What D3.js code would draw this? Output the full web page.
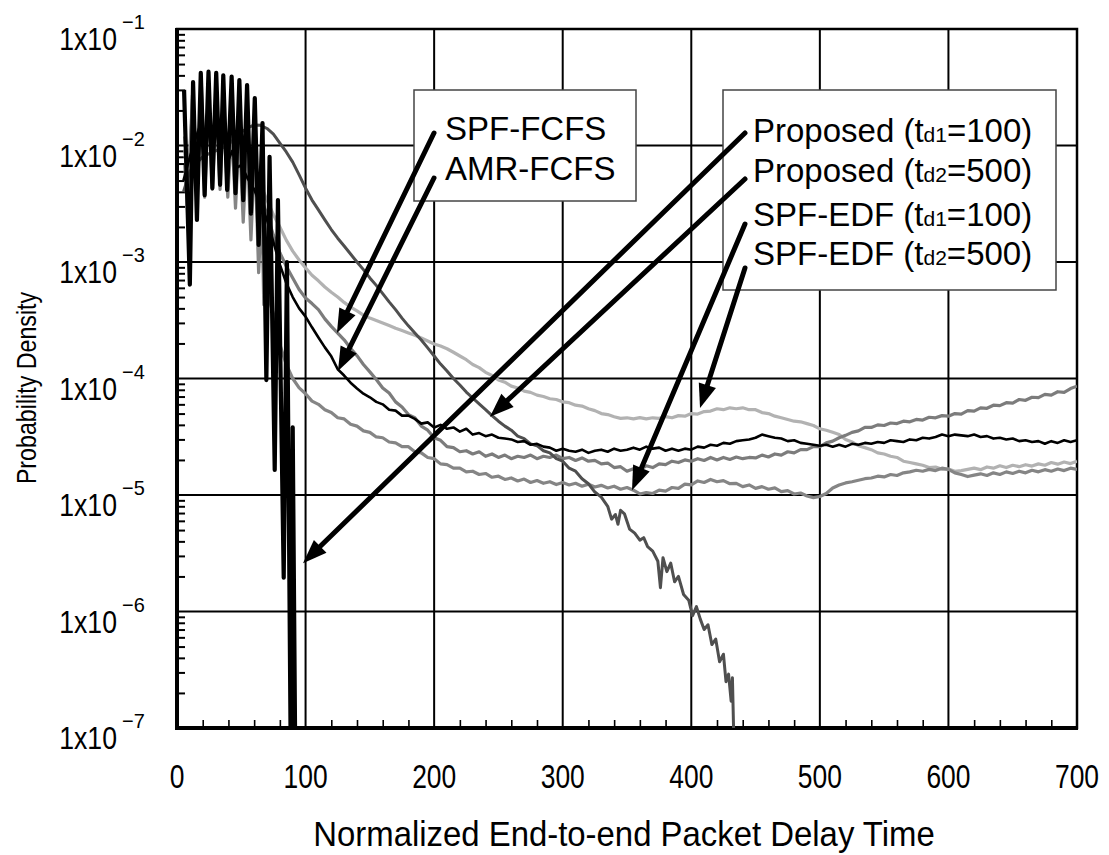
<!DOCTYPE html>
<html>
<head>
<meta charset="utf-8">
<script src="https://cdn.jsdelivr.net/npm/d3@7"></script>
<style>
  body { margin: 0; background: #fff; }
  svg { display: block; }
  text { font-family: 'Liberation Sans', Arial, sans-serif; fill: #000; }
</style>
</head>
<body>
<svg id="chart" width="1109" height="855"></svg>
<script>
// ---- Axis ticks ----
const xTicks = [0, 100, 200, 300, 400, 500, 600, 700];
const yTicks = [1e-1, 1e-2, 1e-3, 1e-4, 1e-5, 1e-6, 1e-7];
const yExponents = ["\u22121", "\u22122", "\u22123", "\u22124", "\u22125", "\u22126", "\u22127"];

// ---- Series: [delay, probability density] ----
const proposedTd1 = [
  [5.5, 3.0e-2], [10, 6.4e-4], [12.5, 3.5e-2], [15.5, 2.3e-3], [18.5, 4.2e-2], [21.5, 3.75e-3],
  [24.5, 4.3e-2], [27.5, 4.3e-3], [30.5, 4.2e-2], [33.5, 4.6e-3], [36, 4.0e-2], [39, 4.15e-3],
  [42.5, 3.9e-2], [45.5, 3.9e-3], [48.5, 3.65e-2], [51.5, 3.4e-3], [54.5, 3.3e-2], [57.5, 2.6e-3],
  [60.5, 2.55e-2], [63.5, 1.4e-3], [66.5, 1.56e-2], [69.5, 9.7e-5], [72, 8e-3], [76, 1.64e-5],
  [78.5, 3.4e-3], [83, 1.95e-6], [85.5, 1.0e-3], [88.5, 5e-8], [90, 3.8e-5], [92, 5e-8]
];

const proposedTd2 = [
  [5, 4e-3], [10, 6e-3], [15, 7e-3], [20, 8e-3], [25, 8.5e-3], [30, 9e-3], [35, 9.5e-3], [40, 1.02e-2],
  [45, 1.15e-2], [50, 1.3e-2], [55, 1.42e-2], [60, 1.5e-2], [65, 1.49e-2], [70, 1.4e-2], [75, 1.25e-2],
  [80, 1.05e-2], [85, 8.8e-3], [90, 7.2e-3], [95, 5.6e-3], [100, 4.3e-3], [105, 3.4e-3], [110, 2.8e-3],
  [115, 2.3e-3], [120, 1.9e-3], [125, 1.6e-3], [130, 1.37e-3], [135, 1.17e-3], [140, 1.0e-3],
  [145, 8.6e-4], [150, 7.3e-4], [155, 6.3e-4], [160, 5.35e-4], [165, 4.55e-4], [170, 3.9e-4],
  [175, 3.3e-4], [180, 2.83e-4], [185, 2.46e-4], [190, 2.14e-4], [195, 1.83e-4], [200, 1.56e-4],
  [205, 1.33e-4], [210, 1.16e-4], [215, 1.0e-4], [220, 8.8e-5], [225, 7.65e-5], [230, 6.8e-5],
  [235, 6.05e-5], [240, 5.4e-5], [245, 4.8e-5], [250, 4.3e-5], [255, 3.9e-5], [260, 3.6e-5],
  [265, 3.2e-5], [270, 3.05e-5], [275, 2.75e-5], [280, 2.65e-5], [285, 2.4e-5], [290, 2.3e-5],
  [295, 2.05e-5], [300, 1.95e-5], [305, 1.7e-5], [310, 1.6e-5], [315, 1.38e-5], [320, 1.25e-5],
  [325, 1.06e-5], [330, 9.6e-6], [335, 8.0e-6], [338, 6.2e-6], [341, 6.8e-6], [343, 5.6e-6],
  [345, 7.4e-6], [348, 6.9e-6], [352, 5.1e-6], [356, 4.7e-6], [360, 4.1e-6], [363, 4.3e-6],
  [366, 3.6e-6], [370, 3.3e-6], [374, 2.7e-6], [376, 1.6e-6], [378, 2.9e-6], [381, 2.2e-6],
  [384, 2.6e-6], [387, 1.8e-6], [390, 2.0e-6], [394, 1.4e-6], [398, 1.25e-6], [401, 9.2e-7],
  [404, 1.1e-6], [407, 8.6e-7], [410, 7.0e-7], [413, 7.7e-7], [416, 5.2e-7], [419, 5.8e-7],
  [422, 3.7e-7], [425, 4.3e-7], [427, 2.5e-7], [429, 2.9e-7], [431, 1.7e-7], [432, 2.7e-7], [433.5, 5e-8]
];

const spfEdfTd1 = [
  [6, 6.8e-3], [8.5, 2.5e-3], [12, 2.7e-2], [15.5, 3.1e-3], [19, 3.2e-2], [21.5, 3.6e-3], [24.5, 2.6e-2],
  [27.5, 4.2e-3], [30.5, 2.3e-2], [33.5, 4.2e-3], [36, 2.0e-2], [39.5, 3.6e-3], [42.5, 1.43e-2],
  [45.5, 2.9e-3], [48.5, 1.28e-2], [51.5, 2.2e-3], [54.5, 1.05e-2], [57.5, 1.55e-3], [60.5, 9.2e-3],
  [63.5, 8.1e-4], [66, 3.1e-3], [67.5, 4.3e-4], [70, 6.0e-4], [72, 4.6e-4], [75, 3.6e-4], [80, 1.96e-4],
  [85, 1.32e-4], [90, 1.0e-4], [95, 8.3e-5], [100, 7.4e-5], [105, 6.4e-5], [110, 6.0e-5], [115, 5.4e-5],
  [120, 5.1e-5], [125, 4.6e-5], [130, 4.5e-5], [135, 4.05e-5], [140, 3.9e-5], [145, 3.55e-5],
  [150, 3.45e-5], [155, 3.15e-5], [160, 3.1e-5], [165, 2.85e-5], [170, 2.8e-5], [175, 2.6e-5],
  [180, 2.6e-5], [185, 2.35e-5], [190, 2.3e-5], [195, 2.1e-5], [200, 2.05e-5], [205, 1.85e-5],
  [210, 1.82e-5], [215, 1.7e-5], [220, 1.7e-5], [225, 1.58e-5], [230, 1.6e-5], [235, 1.5e-5],
  [240, 1.53e-5], [245, 1.42e-5], [250, 1.45e-5], [255, 1.36e-5], [260, 1.4e-5], [265, 1.32e-5],
  [270, 1.37e-5], [275, 1.28e-5], [280, 1.33e-5], [285, 1.26e-5], [290, 1.3e-5], [295, 1.23e-5],
  [300, 1.28e-5], [305, 1.22e-5], [310, 1.26e-5], [315, 1.19e-5], [320, 1.24e-5], [325, 1.17e-5],
  [330, 1.21e-5], [335, 1.15e-5], [340, 1.19e-5], [345, 1.12e-5], [350, 1.16e-5], [355, 1.1e-5],
  [360, 1.02e-5], [365, 1.05e-5], [370, 1.03e-5], [375, 1.1e-5], [380, 1.08e-5], [385, 1.16e-5],
  [390, 1.14e-5], [395, 1.24e-5], [400, 1.22e-5], [405, 1.32e-5], [410, 1.28e-5], [415, 1.36e-5],
  [420, 1.3e-5], [425, 1.33e-5], [430, 1.25e-5], [435, 1.26e-5], [440, 1.18e-5], [445, 1.22e-5],
  [450, 1.14e-5], [455, 1.18e-5], [460, 1.12e-5], [465, 1.15e-5], [470, 1.07e-5], [475, 1.09e-5],
  [480, 1.02e-5], [485, 1.04e-5], [490, 9.8e-6], [495, 9.5e-6], [500, 9.7e-6], [505, 1.03e-5],
  [510, 1.15e-5], [515, 1.22e-5], [520, 1.27e-5], [525, 1.3e-5], [530, 1.34e-5], [535, 1.38e-5],
  [540, 1.4e-5], [545, 1.45e-5], [550, 1.43e-5], [555, 1.5e-5], [560, 1.47e-5], [565, 1.55e-5],
  [570, 1.58e-5], [575, 1.63e-5], [580, 1.6e-5], [585, 1.66e-5], [590, 1.62e-5], [595, 1.7e-5],
  [600, 1.66e-5], [605, 1.55e-5], [610, 1.5e-5], [615, 1.44e-5], [620, 1.48e-5], [625, 1.52e-5],
  [630, 1.47e-5], [635, 1.55e-5], [640, 1.5e-5], [645, 1.58e-5], [650, 1.53e-5], [655, 1.6e-5],
  [660, 1.55e-5], [665, 1.63e-5], [670, 1.58e-5], [675, 1.65e-5], [680, 1.6e-5], [685, 1.67e-5],
  [690, 1.62e-5], [695, 1.7e-5], [700, 1.66e-5]
];

const spfEdfTd2 = [
  [6, 9.2e-3], [8.5, 4.2e-3], [12, 2.5e-2], [15.5, 7.5e-3], [19, 2.7e-2], [21.5, 9e-3], [24.5, 2.45e-2],
  [27.5, 9e-3], [30.5, 2.1e-2], [33.5, 9e-3], [36, 1.83e-2], [39.5, 9e-3], [42.5, 1.5e-2], [45.5, 9.5e-3],
  [48, 1.1e-2], [50, 9.5e-3], [55, 7.5e-3], [60, 5.9e-3], [65, 4.6e-3], [70, 3.4e-3], [75, 2.55e-3],
  [80, 2.0e-3], [85, 1.54e-3], [90, 1.24e-3], [95, 1.04e-3], [100, 8.9e-4], [105, 7.7e-4], [110, 6.9e-4],
  [115, 6.1e-4], [120, 5.5e-4], [125, 5.0e-4], [130, 4.5e-4], [135, 4.1e-4], [140, 3.8e-4], [145, 3.5e-4],
  [150, 3.3e-4], [155, 3.15e-4], [160, 3.0e-4], [165, 2.85e-4], [170, 2.7e-4], [175, 2.58e-4],
  [180, 2.46e-4], [185, 2.35e-4], [190, 2.23e-4], [195, 2.1e-4], [200, 1.98e-4], [205, 1.9e-4],
  [210, 1.8e-4], [215, 1.68e-4], [220, 1.56e-4], [225, 1.45e-4], [230, 1.32e-4], [235, 1.24e-4],
  [240, 1.13e-4], [245, 1.06e-4], [250, 9.7e-5], [255, 9.3e-5], [260, 8.6e-5], [265, 8.3e-5],
  [270, 7.8e-5], [275, 7.6e-5], [280, 7.2e-5], [285, 7.0e-5], [290, 6.7e-5], [295, 6.6e-5],
  [300, 6.3e-5], [305, 6.2e-5], [310, 5.9e-5], [315, 5.8e-5], [320, 5.5e-5], [325, 5.3e-5],
  [330, 5.0e-5], [335, 4.9e-5], [340, 4.7e-5], [345, 4.55e-5], [350, 4.6e-5], [355, 4.5e-5],
  [360, 4.62e-5], [365, 4.5e-5], [370, 4.6e-5], [375, 4.55e-5], [380, 4.7e-5], [385, 4.6e-5],
  [390, 4.8e-5], [395, 4.75e-5], [400, 5.0e-5], [405, 4.95e-5], [410, 5.2e-5], [415, 5.25e-5],
  [420, 5.5e-5], [425, 5.4e-5], [430, 5.6e-5], [435, 5.5e-5], [440, 5.6e-5], [445, 5.4e-5],
  [450, 5.4e-5], [455, 5.1e-5], [460, 5.0e-5], [465, 4.75e-5], [470, 4.6e-5], [475, 4.45e-5],
  [480, 4.3e-5], [485, 4.25e-5], [490, 4.1e-5], [495, 3.95e-5], [500, 3.7e-5], [505, 3.6e-5],
  [510, 3.45e-5], [515, 3.3e-5], [520, 3.0e-5], [525, 2.85e-5], [530, 2.65e-5], [535, 2.55e-5],
  [540, 2.45e-5], [545, 2.3e-5], [550, 2.25e-5], [555, 2.15e-5], [560, 2.1e-5], [565, 1.95e-5],
  [570, 1.9e-5], [575, 1.85e-5], [580, 1.8e-5], [585, 1.72e-5], [590, 1.74e-5], [595, 1.66e-5],
  [600, 1.67e-5], [605, 1.6e-5], [610, 1.62e-5], [615, 1.66e-5], [620, 1.7e-5], [625, 1.65e-5],
  [630, 1.74e-5], [635, 1.7e-5], [640, 1.78e-5], [645, 1.72e-5], [650, 1.8e-5], [655, 1.75e-5],
  [660, 1.82e-5], [665, 1.77e-5], [670, 1.85e-5], [675, 1.8e-5], [680, 1.9e-5], [685, 1.84e-5],
  [690, 1.92e-5], [695, 1.86e-5], [700, 1.95e-5]
];

const spfFcfs = [
  [6, 1.2e-2], [8.5, 5e-3], [12, 2.0e-2], [15.5, 6e-3], [19, 2.2e-2], [21.5, 7e-3], [24.5, 2.0e-2],
  [27.5, 7.5e-3], [30.5, 1.8e-2], [33.5, 7.5e-3], [36, 1.6e-2], [39.5, 7e-3], [42.5, 1.3e-2], [45.5, 7e-3],
  [48.5, 1.0e-2], [50, 7.5e-3], [55, 6.2e-3], [60, 4.8e-3], [65, 3.6e-3], [70, 2.55e-3], [75, 1.7e-3],
  [80, 1.2e-3], [85, 9.2e-4], [90, 7.3e-4], [95, 5.8e-4], [100, 4.9e-4], [105, 4.4e-4], [110, 3.9e-4],
  [115, 3.25e-4], [120, 2.8e-4], [125, 2.45e-4], [130, 2.15e-4], [135, 1.82e-4], [140, 1.57e-4],
  [145, 1.32e-4], [150, 1.14e-4], [155, 9.8e-5], [160, 8.3e-5], [165, 7.5e-5], [170, 6.3e-5],
  [175, 5.7e-5], [180, 4.9e-5], [185, 4.6e-5], [190, 3.9e-5], [195, 3.6e-5], [200, 3.1e-5],
  [205, 2.95e-5], [210, 2.6e-5], [215, 2.55e-5], [220, 2.35e-5], [225, 2.4e-5], [230, 2.25e-5],
  [235, 2.35e-5], [240, 2.15e-5], [245, 2.25e-5], [250, 2.1e-5], [255, 2.2e-5], [260, 2.05e-5],
  [265, 2.15e-5], [270, 2.1e-5], [275, 2.2e-5], [280, 2.05e-5], [285, 2.15e-5], [290, 2.1e-5],
  [295, 2.2e-5], [300, 2.05e-5], [305, 2.1e-5], [310, 1.98e-5], [315, 2.08e-5], [320, 1.95e-5],
  [325, 1.98e-5], [330, 1.85e-5], [335, 1.88e-5], [340, 1.72e-5], [345, 1.75e-5], [350, 1.6e-5],
  [355, 1.68e-5], [360, 1.65e-5], [365, 1.78e-5], [370, 1.72e-5], [375, 1.85e-5], [380, 1.82e-5],
  [385, 1.95e-5], [390, 1.9e-5], [395, 2.0e-5], [400, 1.95e-5], [405, 2.05e-5], [410, 1.98e-5],
  [415, 2.1e-5], [420, 2.0e-5], [425, 2.1e-5], [430, 2.02e-5], [435, 2.12e-5], [440, 2.05e-5],
  [445, 2.1e-5], [450, 2.08e-5], [455, 2.2e-5], [460, 2.12e-5], [465, 2.25e-5], [470, 2.2e-5],
  [475, 2.35e-5], [480, 2.3e-5], [485, 2.45e-5], [490, 2.45e-5], [495, 2.6e-5], [500, 2.6e-5],
  [505, 2.8e-5], [510, 2.9e-5], [515, 3.1e-5], [520, 3.25e-5], [525, 3.45e-5], [530, 3.55e-5],
  [535, 3.8e-5], [540, 3.8e-5], [545, 4.0e-5], [550, 3.95e-5], [555, 4.15e-5], [560, 4.1e-5],
  [565, 4.3e-5], [570, 4.25e-5], [575, 4.45e-5], [580, 4.4e-5], [585, 4.65e-5], [590, 4.6e-5],
  [595, 4.8e-5], [600, 4.75e-5], [605, 5.0e-5], [610, 4.95e-5], [615, 5.3e-5], [620, 5.25e-5],
  [625, 5.6e-5], [630, 5.55e-5], [635, 5.9e-5], [640, 5.85e-5], [645, 6.2e-5], [650, 6.15e-5],
  [655, 6.6e-5], [660, 6.5e-5], [665, 6.9e-5], [670, 6.85e-5], [675, 7.3e-5], [680, 7.2e-5],
  [685, 7.7e-5], [690, 7.6e-5], [695, 8.2e-5], [700, 8.6e-5]
];

const amrFcfs = [
  [5, 5e-3], [10, 8e-3], [15, 1.2e-2], [19, 1.6e-2], [22, 1.15e-2], [24.5, 1.65e-2], [27.5, 9e-3],
  [31, 1.35e-2], [34, 9.5e-3], [37, 1.18e-2], [40, 7.5e-3], [43, 9e-3], [47, 6.5e-3], [50, 6.8e-3],
  [55, 5.2e-3], [60, 4.2e-3], [65, 3.1e-3], [70, 2.3e-3], [75, 1.48e-3], [80, 9.5e-4], [85, 6.6e-4],
  [90, 5.0e-4], [95, 4.0e-4], [100, 3.4e-4], [105, 2.75e-4], [110, 2.25e-4], [115, 1.85e-4],
  [120, 1.55e-4], [125, 1.2e-4], [130, 1.06e-4], [135, 9.2e-5], [140, 8.2e-5], [145, 7.4e-5],
  [150, 6.9e-5], [155, 6.3e-5], [160, 6.0e-5], [165, 5.4e-5], [170, 5.3e-5], [175, 4.8e-5],
  [180, 4.8e-5], [185, 4.5e-5], [190, 4.1e-5], [195, 4.2e-5], [200, 3.8e-5], [205, 4.0e-5],
  [210, 3.7e-5], [215, 3.8e-5], [220, 3.5e-5], [225, 3.7e-5], [230, 3.3e-5], [235, 3.4e-5],
  [240, 3.2e-5], [245, 3.3e-5], [250, 3.1e-5], [255, 3.05e-5], [260, 3.0e-5], [265, 2.85e-5],
  [270, 2.9e-5], [275, 2.7e-5], [280, 2.75e-5], [285, 2.6e-5], [290, 2.55e-5], [295, 2.4e-5],
  [300, 2.5e-5], [305, 2.4e-5], [310, 2.35e-5], [315, 2.45e-5], [320, 2.3e-5], [325, 2.4e-5],
  [330, 2.45e-5], [335, 2.35e-5], [340, 2.5e-5], [345, 2.4e-5], [350, 2.45e-5], [355, 2.55e-5],
  [360, 2.45e-5], [365, 2.6e-5], [370, 2.5e-5], [375, 2.55e-5], [380, 2.4e-5], [385, 2.5e-5],
  [390, 2.4e-5], [395, 2.5e-5], [400, 2.45e-5], [405, 2.6e-5], [410, 2.55e-5], [415, 2.7e-5],
  [420, 2.65e-5], [425, 2.8e-5], [430, 2.75e-5], [435, 2.9e-5], [440, 2.95e-5], [445, 3.0e-5],
  [450, 3.1e-5], [455, 3.3e-5], [460, 3.2e-5], [465, 3.1e-5], [470, 3.05e-5], [475, 2.9e-5],
  [480, 2.95e-5], [485, 2.8e-5], [490, 2.75e-5], [495, 2.7e-5], [500, 2.65e-5], [505, 2.7e-5],
  [510, 2.6e-5], [515, 2.7e-5], [520, 2.6e-5], [525, 2.75e-5], [530, 2.7e-5], [535, 2.8e-5],
  [540, 2.75e-5], [545, 2.85e-5], [550, 2.8e-5], [555, 2.95e-5], [560, 2.9e-5], [565, 2.85e-5],
  [570, 3.0e-5], [575, 2.95e-5], [580, 3.1e-5], [585, 3.05e-5], [590, 3.15e-5], [595, 3.3e-5],
  [600, 3.2e-5], [605, 3.3e-5], [610, 3.25e-5], [615, 3.2e-5], [620, 3.3e-5], [625, 3.15e-5],
  [630, 3.2e-5], [635, 3.05e-5], [640, 3.1e-5], [645, 3.0e-5], [650, 3.05e-5], [655, 2.9e-5],
  [660, 2.95e-5], [665, 2.85e-5], [670, 2.9e-5], [675, 2.75e-5], [680, 2.9e-5], [685, 2.8e-5],
  [690, 2.95e-5], [695, 2.85e-5], [700, 2.95e-5]
];

// ---- Annotation labels and the curve point each arrow points at ----
const groupLabelsA = [["SPF-FCFS"], ["AMR-FCFS"]];
const groupTargetsA = [[124.4, 2.46e-4], [125.2, 1.16e-4]];
const groupLabelsB = [
  ["Proposed (t", "d1", "=100)"],
  ["Proposed (t", "d2", "=500)"],
  ["SPF-EDF (t", "d1", "=100)"],
  ["SPF-EDF (t", "d2", "=500)"]
];
const groupTargetsB = [[98, 2.6e-6], [243.4, 4.7e-5], [353.9, 1.1e-5], [406.8, 5.58e-5]];

// ---- Layout ----
const plot = { left: 177, right: 1077, top: 29, bottom: 728 };
const svg = d3.select("#chart");

const x = d3.scaleLinear().domain([0, 700]).range([plot.left, plot.right]);
const y = d3.scaleLog().domain([1e-7, 1e-1]).range([plot.bottom, plot.top]);

svg.append("defs").append("clipPath").attr("id", "plotClip")
  .append("rect")
  .attr("x", plot.left).attr("y", plot.top)
  .attr("width", plot.right - plot.left).attr("height", plot.bottom - plot.top);

// Minor ticks on the log axis (2..9 within each decade)
const yMinor = [];
yTicks.slice(1).forEach(d => { for (let k = 2; k <= 9; k++) yMinor.push(k * d); });
svg.append("g")
  .attr("transform", `translate(${plot.left},0)`)
  .call(d3.axisRight(y).tickValues(yMinor).tickSize(8).tickFormat(""))
  .call(g => g.select(".domain").remove())
  .call(g => g.selectAll("line").attr("stroke", "#000").attr("stroke-width", 2));

// Minor ticks on the delay axis, every 20
const xMinor = d3.range(20, 700, 20).filter(v => v % 100 !== 0);
svg.append("g")
  .attr("transform", `translate(0,${plot.bottom})`)
  .call(d3.axisTop(x).tickValues(xMinor).tickSize(8).tickFormat(""))
  .call(g => g.select(".domain").remove())
  .call(g => g.selectAll("line").attr("stroke", "#000").attr("stroke-width", 1.6));

// Grid lines at major ticks
const grid = svg.append("g").attr("stroke", "#000").attr("stroke-width", 2);
grid.selectAll(".vg").data(xTicks.slice(1, -1)).join("line")
  .attr("x1", d => x(d)).attr("x2", d => x(d))
  .attr("y1", plot.top).attr("y2", plot.bottom);
grid.selectAll(".hg").data(yTicks.slice(1, -1)).join("line")
  .attr("x1", plot.left).attr("x2", plot.right)
  .attr("y1", d => y(d)).attr("y2", d => y(d));

// Frame
svg.append("rect")
  .attr("x", plot.left).attr("y", plot.top)
  .attr("width", plot.right - plot.left).attr("height", plot.bottom - plot.top)
  .attr("fill", "none").attr("stroke", "#000").attr("stroke-width", 2.5);
svg.append("line").attr("x1", plot.left).attr("x2", plot.left)
  .attr("y1", plot.top - 1).attr("y2", plot.bottom + 2)
  .attr("stroke", "#000").attr("stroke-width", 4);
svg.append("line").attr("x1", plot.left - 2).attr("x2", plot.right + 1)
  .attr("y1", plot.bottom).attr("y2", plot.bottom)
  .attr("stroke", "#000").attr("stroke-width", 4);

// Y tick labels: 1x10^n (narrow, tall glyphs via horizontal scaling)
const yLab = svg.append("g");
yTicks.forEach((d, i) => {
  const yy = y(d);
  yLab.append("text")
    .attr("transform", `translate(117,${yy + 21}) scale(0.86,1)`)
    .attr("text-anchor", "end").attr("font-size", 31)
    .text("1x10");
  yLab.append("text")
    .attr("transform", `translate(122,${yy}) scale(0.95,1)`)
    .attr("font-size", 21)
    .text(yExponents[i]);
});

// X tick labels
svg.append("g").selectAll("text").data(xTicks).join("text")
  .attr("transform", d => `translate(${x(d)},788) scale(0.8,1)`)
  .attr("text-anchor", "middle").attr("font-size", 33)
  .text(d => d);

// Axis titles
svg.append("text")
  .attr("transform", "translate(624,846) scale(0.94,1)")
  .attr("text-anchor", "middle").attr("font-size", 35)
  .text("Normalized End-to-end Packet Delay Time");
svg.append("text")
  .attr("transform", "translate(36,388) rotate(-90) scale(0.86,1)")
  .attr("text-anchor", "middle").attr("font-size", 27)
  .text("Probability Density");

// Curves
const line = d3.line().x(d => x(d[0])).y(d => y(d[1]));
const series = [
  { data: spfEdfTd2, color: "#b2b2b2", width: 3.2 },
  { data: spfFcfs, color: "#7c7c7c", width: 3.2 },
  { data: spfEdfTd1, color: "#858585", width: 3.2 },
  { data: proposedTd2, color: "#4f4f4f", width: 3.0 },
  { data: amrFcfs, color: "#000", width: 2.6 },
  { data: proposedTd1, color: "#000", width: 4.2 }
];
const curves = svg.append("g").attr("clip-path", "url(#plotClip)");
series.forEach(s => {
  curves.append("path").datum(s.data)
    .attr("d", line)
    .attr("fill", "none")
    .attr("stroke", s.color)
    .attr("stroke-width", s.width)
    .attr("stroke-linejoin", "round");
});

// Annotation boxes with arrows
function drawArrow(g, sx, sy, target) {
  const tx = x(target[0]), ty = y(target[1]);
  const dx = tx - sx, dy = ty - sy, len = Math.hypot(dx, dy);
  const ux = dx / len, uy = dy / len, nx = -uy, ny = ux;
  const head = 24, half = 9;
  const bx = tx - ux * head, by = ty - uy * head;
  g.append("line").attr("x1", sx).attr("y1", sy).attr("x2", bx + ux * 2).attr("y2", by + uy * 2)
    .attr("stroke", "#000").attr("stroke-width", 5).attr("stroke-linecap", "round");
  g.append("path")
    .attr("d", `M${tx},${ty}L${bx + nx * half},${by + ny * half}L${bx - nx * half},${by - ny * half}Z`)
    .attr("fill", "#000");
}

function drawGroup(box, labels, targets, baselines, starts) {
  const g = svg.append("g");
  g.append("rect").attr("x", box.x).attr("y", box.y).attr("width", box.w).attr("height", box.h)
    .attr("fill", "#fff").attr("stroke", "#444").attr("stroke-width", 1.5);
  labels.forEach((parts, i) => {
    const t = g.append("text").attr("x", box.textX).attr("y", baselines[i]).attr("font-size", 33);
    parts.forEach((p, j) => {
      const ts = t.append("tspan").text(p);
      if (j === 1) ts.attr("font-size", 21);
    });
  });
  targets.forEach((tg, i) => drawArrow(svg, starts[i][0], starts[i][1], tg));
}

drawGroup({ x: 414, y: 90, w: 222, h: 111, textX: 445 }, groupLabelsA, groupTargetsA,
  [140, 180], [[434, 133], [434, 178]]);
drawGroup({ x: 723, y: 90, w: 333, h: 200, textX: 753 }, groupLabelsB, groupTargetsB,
  [142, 182, 226, 265], [[745, 133], [745, 179], [745, 224], [745, 268]]);
</script>
</body>
</html>
